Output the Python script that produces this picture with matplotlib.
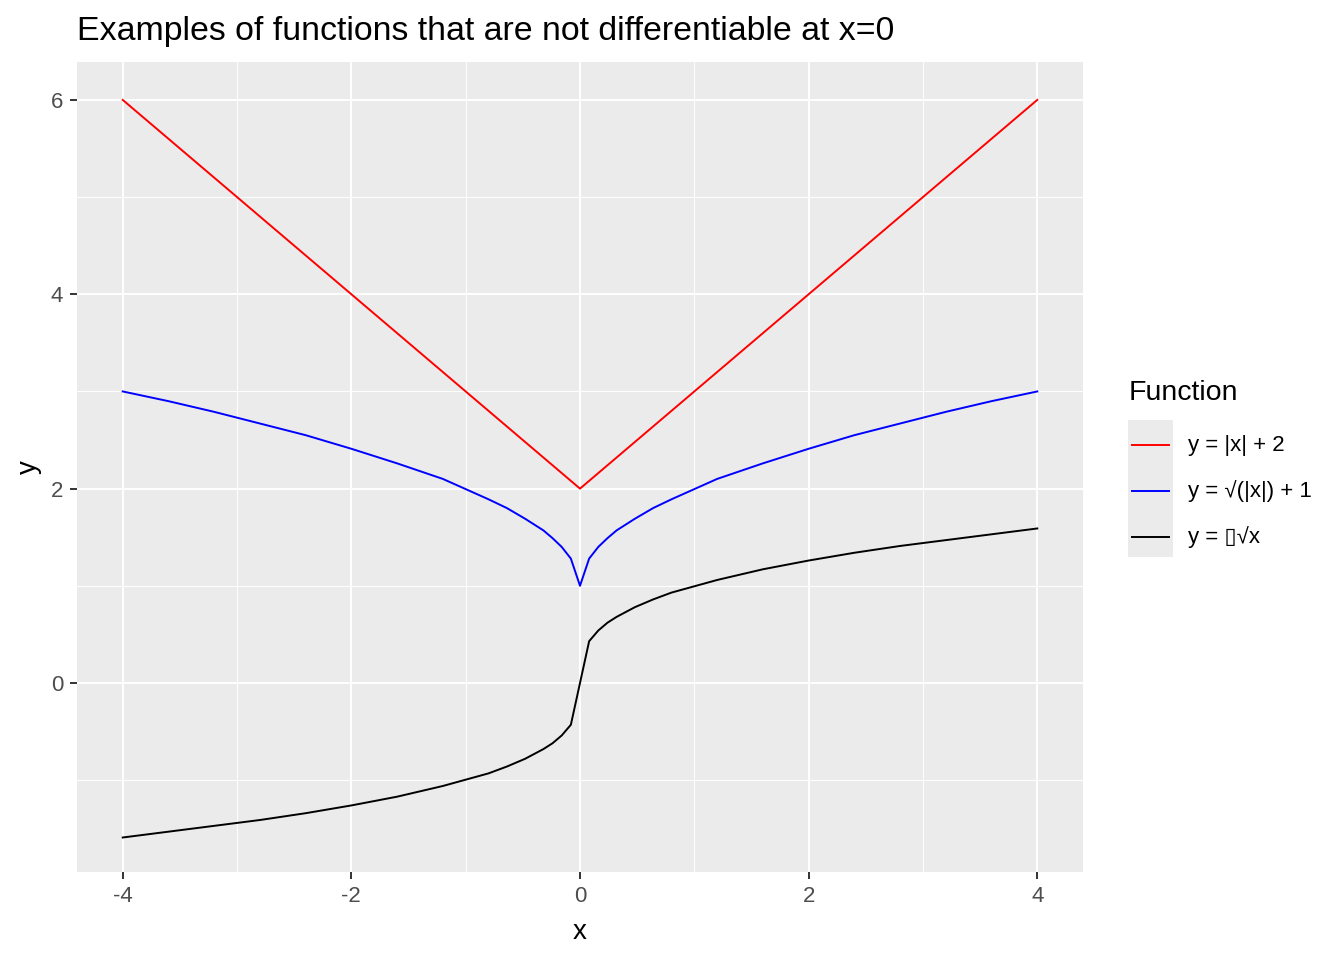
import matplotlib
matplotlib.use("Agg")
import matplotlib.pyplot as plt
from matplotlib.lines import Line2D
from matplotlib.patches import Rectangle

plt.rcParams['font.family'] = ['Liberation Sans', 'DejaVu Sans']
plt.rcParams['axes.unicode_minus'] = False

# Data
x = [-4.0, -3.6, -3.2, -2.8, -2.4, -2.0, -1.6, -1.2, -0.8, -0.64, -0.48, -0.32, -0.24, -0.16, -0.08,
     0.0, 0.08, 0.16, 0.24, 0.32, 0.48, 0.64, 0.8, 1.2, 1.6, 2.0, 2.4, 2.8, 3.2, 3.6, 4.0]
y_abs = [6.0, 5.6, 5.2, 4.8, 4.4, 4.0, 3.6, 3.2, 2.8, 2.64, 2.48, 2.32, 2.24, 2.16, 2.08,
         2.0, 2.08, 2.16, 2.24, 2.32, 2.48, 2.64, 2.8, 3.2, 3.6, 4.0, 4.4, 4.8, 5.2, 5.6, 6.0]
y_sqrt = [3.00, 2.90, 2.79, 2.67, 2.55, 2.41, 2.26, 2.10, 1.89, 1.80, 1.69, 1.57, 1.49, 1.40, 1.28,
          1.00, 1.28, 1.40, 1.49, 1.57, 1.69, 1.80, 1.89, 2.10, 2.26, 2.41, 2.55, 2.67, 2.79, 2.90, 3.00]
y_cbrt = [-1.59, -1.53, -1.47, -1.41, -1.34, -1.26, -1.17, -1.06, -0.93, -0.86, -0.78, -0.68, -0.62, -0.54, -0.43,
          0.00, 0.43, 0.54, 0.62, 0.68, 0.78, 0.86, 0.93, 1.06, 1.17, 1.26, 1.34, 1.41, 1.47, 1.53, 1.59]

labels = ['y = |x| + 2', 'y = \u221a(|x|) + 1', 'y = \u25af\u221ax']
colors = ['#FF0000', '#0000FF', '#000000']

W, H = 1344, 960
fig = plt.figure(figsize=(W / 100, H / 100), dpi=100)
ax = fig.add_axes([77 / W, 1 - 872 / H, (1083 - 77) / W, (872 - 62) / H])
ax.set_facecolor('#EBEBEB')

for ys, c in zip([y_abs, y_sqrt, y_cbrt], colors):
    ax.plot(x, ys, color=c, lw=1.4, zorder=3)

ax.set_xlim(-4.4, 4.4)
ax.set_ylim(-1.945, 6.39)
ax.set_xticks([-4, -2, 0, 2, 4])
ax.set_xticks([-3, -1, 1, 3], minor=True)
ax.set_yticks([0, 2, 4, 6])
ax.set_yticks([-1, 1, 3, 5], minor=True)
ax.grid(which='major', color='white', lw=1.4)
ax.grid(which='minor', color='white', lw=0.7)
ax.set_axisbelow(True)
for s in ax.spines.values():
    s.set_visible(False)
ax.tick_params(which='major', length=5, width=1.4, color='#333333',
               labelcolor='#4D4D4D', labelsize=16, pad=5)
ax.tick_params(which='minor', length=0)

ax.set_xlabel('x', fontsize=20, labelpad=9)
ax.set_ylabel('y', fontsize=20, labelpad=6)
ax.set_title('Examples of functions that are not differentiable at x=0',
             fontsize=24.4, loc='left', pad=16)

# legend
fig.text(1129 / W, 1 - 393 / H, 'Function', fontsize=20.5, va='center', ha='left')
fig.add_artist(Rectangle((1128 / W, 1 - 557 / H), 45 / W, 137 / H,
                         transform=fig.transFigure, facecolor='#EBEBEB', edgecolor='none'))
for i, (lab, c) in enumerate(zip(labels, colors)):
    yy = 1 - (445 + 46 * i) / H
    fig.add_artist(Line2D([1132 / W, 1169 / W], [yy, yy], transform=fig.transFigure,
                          color=c, lw=1.4))
    fig.text(1188 / W, yy, lab, fontsize=16, va='center', ha='left')

fig.savefig('out.png', dpi=100)
